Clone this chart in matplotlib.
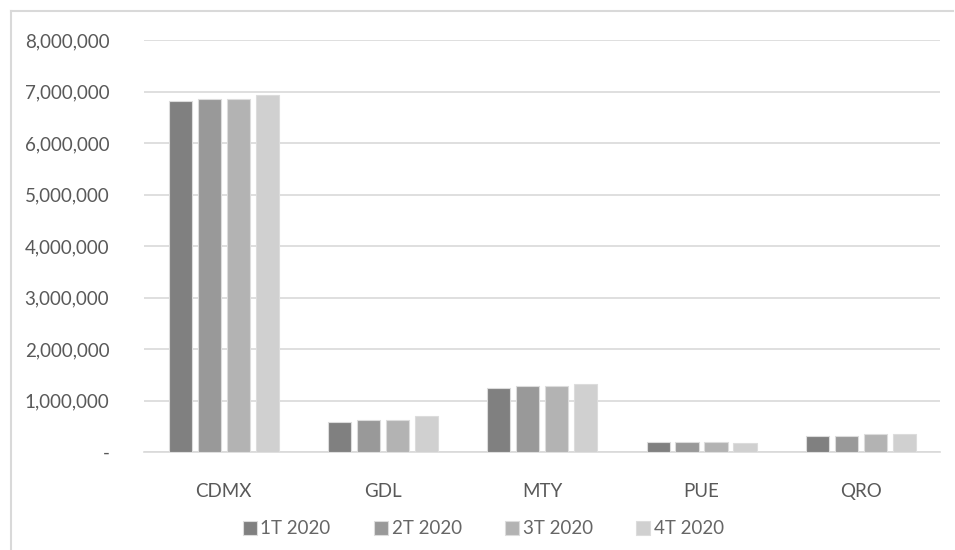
import numpy as np
import matplotlib.pyplot as plt
from matplotlib.ticker import FuncFormatter
from matplotlib.lines import Line2D

ciudades = ['CDMX', 'GDL', 'MTY', 'PUE', 'QRO']
trimestres = ['1T 2020', '2T 2020', '3T 2020', '4T 2020']

t1 = [6820000, 590000, 1240000, 190000, 320000]
t2 = [6860000, 620000, 1280000, 190000, 320000]
t3 = [6850000, 620000, 1280000, 190000, 360000]
t4 = [6940000, 700000, 1320000, 180000, 350000]

colores = ['#808080', '#999999', '#b3b3b3', '#d0d0d0']

plt.rcParams['font.family'] = ['Lato', 'DejaVu Sans']

fig = plt.figure(figsize=(9.55, 5.5), dpi=100)
ax = fig.add_axes([0.1508, 0.178, 0.834, 0.749])

x = np.arange(len(ciudades))
ancho = 0.145
paso = 0.182
for i, serie in enumerate([t1, t2, t3, t4]):
    ax.bar(x + (i - 1.5) * paso, serie, ancho, color=colores[i],
           edgecolor='#dcdcdc', linewidth=0.8, label=trimestres[i], zorder=3)

ax.set_xlim(-0.5, len(ciudades) - 0.5)
ax.set_ylim(0, 8000000)
ax.set_yticks(np.arange(0, 8000001, 1000000))

def miles(v, pos):
    if v == 0:
        return '-'
    return f'{int(v):,}'

ax.yaxis.set_major_formatter(FuncFormatter(miles))
ax.grid(axis='y', color='#d9d9d9', linewidth=1.2, zorder=0)
for s in ['top', 'right', 'left']:
    ax.spines[s].set_visible(False)
ax.spines['bottom'].set_color('#d9d9d9')
ax.spines['bottom'].set_linewidth(1.2)
ax.tick_params(axis='both', length=0, colors='#595959', labelsize=13.5)
ax.tick_params(axis='y', pad=25)
ax.tick_params(axis='x', pad=22)
ax.set_xticks(x)
ax.set_xticklabels(ciudades)

ax.legend(loc='center', bbox_to_anchor=(0.426, -0.186), ncol=4, frameon=False,
          fontsize=13.5, labelcolor='#666666', handlelength=0.75, handleheight=0.75,
          handletextpad=0.2, columnspacing=2.3)

# marco del area del grafico
borde = '#d9d9d9'
fig.add_artist(Line2D([11 / 955, 11 / 955], [0, 1 - 11 / 550], color=borde, lw=1.5))
fig.add_artist(Line2D([11 / 955, 953 / 955], [1 - 11 / 550, 1 - 11 / 550], color=borde, lw=1.5))

fig.savefig('out.png', dpi=100)
